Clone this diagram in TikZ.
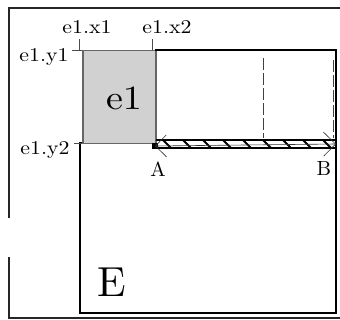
\documentclass[tikz,border=0pt]{standalone}
\usepackage{fontspec}
\setmainfont{lmroman10-regular}[Extension=.otf]
\usetikzlibrary{arrows.meta}
\begin{document}
\begin{tikzpicture}[x=1pt,y=-1pt,
  lbl/.style={inner sep=0pt, anchor=base, xscale=1.12, font=\fontsize{19.5}{23}\selectfont},
  frameline/.style={line width=2pt, black!85},
  outline/.style={line width=2pt, black},
  tickline/.style={line width=0.7pt, black!70},
  guide/.style={line width=0.8pt, black!75, dash pattern=on 12pt off 3pt},
  hatch/.style={line width=2pt, black},
  bandline/.style={line width=1.1pt, black}]
\useasboundingbox (0,0) rectangle (340,320);
% outer frame (open to the right)
\draw[frameline] (340,8) -- (9,8) -- (9,218);
\draw[frameline] (9,257) -- (9,318) -- (340,318);
% element e1
\node[draw=black!60, fill=black!18, line width=1.5pt, minimum width=73pt, minimum height=93pt,
      inner sep=0pt, anchor=north west] (e1) at (82,50) {};
\node[inner sep=0pt, xscale=1.12, font=\fontsize{34}{40}\selectfont] (e1t) at (124,98) {e1};
% container E outline
\draw[outline] (155,50) -- (336,50) -- (336,313) -- (80,313) -- (80,143) -- (82,143);
\node[inner sep=0pt, anchor=base west, font=\fontsize{42}{48}\selectfont] (Et) at (97,297) {E};
% guides
\draw[guide] (263,58) -- (263,138);
\draw[guide] (333,60) -- (333,138);
% ticks and labels
\draw[tickline] (79,39) -- (79,50);
\draw[tickline] (152,39) -- (152,50);
\draw[tickline] (72,50) -- (82,50);
\draw[tickline] (74,143) -- (82,143);
\node[lbl] (x1) at (87,34) {e1.x1};
\node[lbl] (x2) at (167,34) {e1.x2};
\node[lbl] (y1) at (44,62) {e1.y1};
\node[lbl] (y2) at (45,155) {e1.y2};
% band from A to B
\draw[bandline] (156,140) -- (336,140);
\draw[bandline] (156,148) -- (336,148);
\foreach \x in {163,183,...,330} \draw[hatch] (\x,140) -- (\x+8,148);
\node[fill=black, minimum size=6pt, inner sep=0pt] (A) at (155,146) {};
\coordinate (B) at (336,144);
\draw[line width=0.6pt, black!80, {Straight Barb[length=11pt,width=22pt]}-{Straight Barb[length=12pt,width=24pt]}] (A.center) -- (B);
\node[inner sep=0pt, anchor=base, font=\fontsize{20.5}{24}\selectfont] (Al) at (158,177) {A};
\node[inner sep=0pt, anchor=base, font=\fontsize{20.5}{24}\selectfont] (Bl) at (324,176) {B};
\end{tikzpicture}
\end{document}
